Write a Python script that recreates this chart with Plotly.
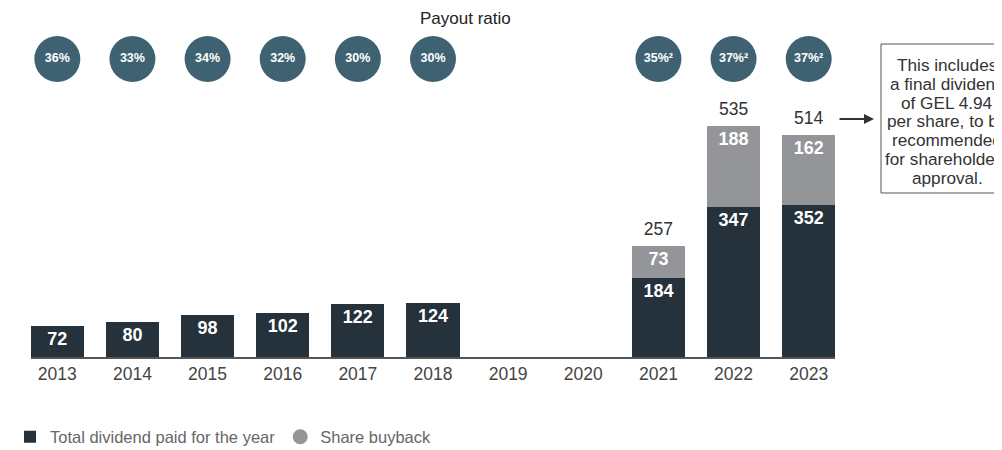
import plotly.graph_objects as go

years = ["2013", "2014", "2015", "2016", "2017", "2018", "2019", "2020", "2021", "2022", "2023"]
dividend = [72, 80, 98, 102, 122, 124, None, None, 184, 347, 352]
buyback = [None, None, None, None, None, None, None, None, 73, 188, 162]
payout_years = ["2013", "2014", "2015", "2016", "2017", "2018", "2021", "2022", "2023"]
payout_labels = ["36%", "33%", "34%", "32%", "30%", "30%", "35%²", "37%²", "37%²"]
note_lines = ["This includes", "a final dividend", "of GEL 4.94", "per share, to be",
              "recommended", "for shareholders", "approval."]

DARK = "#25313b"
GREY = "#939598"
TEAL = "#3e6272"
FONT = "Liberation Sans, Arial, sans-serif"

# page geometry (the page body has an 8px margin)
OFF = 8
W, H = 1002 - OFF, 450 - OFF
PL, PR, PT, PB = 31, 835, 30, 357          # plot area in page pixels
L, R, T, B = PL - OFF, (OFF + W) - PR, PT - OFF, (OFF + H) - PB
PW, PH = PR - PL, PB - PT


def px_x(p):
    return (p - PL) / PW


def px_y(p):
    return (PB - p) / PH


fig = go.Figure()

fig.add_trace(go.Bar(
    x=years, y=dividend, name="Total dividend paid for the year",
    marker=dict(color=DARK, line=dict(width=0)),
    text=[str(v) if v is not None else "" for v in dividend],
    textposition="inside", insidetextanchor="end",
    textfont=dict(color="white", size=18, family=FONT, weight="bold"),
    constraintext="none", showlegend=True, hoverinfo="skip",
))
fig.add_trace(go.Bar(
    x=years, y=buyback, name="Share buyback",
    marker=dict(color=GREY, line=dict(width=0)),
    text=[str(v) if v is not None else "" for v in buyback],
    textposition="inside", insidetextanchor="end",
    textfont=dict(color="white", size=18, family=FONT, weight="bold"),
    constraintext="none", showlegend=False, hoverinfo="skip",
))
# legend entry with a circle icon for buyback
fig.add_trace(go.Scatter(
    x=[None], y=[None], mode="markers", name="Share buyback",
    marker=dict(color=GREY, size=15, symbol="circle"), showlegend=True,
))

# totals above stacked bars
tot_x, tot_y = [], []
for yr, d, b in zip(years, dividend, buyback):
    if d is not None and b is not None:
        tot_x.append(yr)
        tot_y.append(d + b)
fig.add_trace(go.Scatter(
    x=tot_x, y=tot_y, mode="markers+text", text=[str(v) for v in tot_y],
    marker=dict(size=9, color="rgba(0,0,0,0)"),
    textposition="top center", textfont=dict(size=17.5, color="#333", family=FONT),
    showlegend=False, hoverinfo="skip", cliponaxis=False,
))

# payout ratio circles
fig.add_trace(go.Scatter(
    x=payout_years, y=[0.5] * len(payout_years), yaxis="y2",
    mode="markers+text", text=payout_labels, textposition="middle center",
    textfont=dict(color="white", size=12.5, family=FONT, weight="bold"),
    marker=dict(color=TEAL, size=46, line=dict(width=0)),
    showlegend=False, hoverinfo="skip", cliponaxis=False,
))

fig.add_annotation(xref="paper", yref="paper", x=px_x(466), y=px_y(18),
                   xanchor="center", yanchor="middle",
                   text="Payout ratio", showarrow=False,
                   font=dict(size=17, color="#222", family=FONT))

# note box
fig.add_shape(type="rect", xref="paper", yref="paper",
              x0=px_x(881), x1=px_x(1015), y0=px_y(193), y1=px_y(44),
              line=dict(color="#555", width=1), fillcolor="rgba(0,0,0,0)", layer="above")
for i, line in enumerate(note_lines):
    fig.add_annotation(xref="paper", yref="paper", x=px_x(947), y=px_y(65 + i * 18.8),
                       xanchor="center", yanchor="middle", text=line, showarrow=False,
                       font=dict(size=17.2, color="#333", family=FONT))
# arrow
fig.add_annotation(xref="paper", yref="paper", x=px_x(874), y=px_y(119),
                   ax=-36, ay=0, text="", showarrow=True,
                   arrowhead=2, arrowsize=1, arrowwidth=2, arrowcolor="#333")

fig.update_layout(
    width=W, height=H,
    margin=dict(l=L, r=R, t=T, b=B),
    barmode="stack", bargap=0.293,
    plot_bgcolor="white", paper_bgcolor="white",
    font=dict(family=FONT, color="#444"),
    xaxis=dict(type="category", range=[-0.35, 10.35], showline=True,
               linecolor="#555", linewidth=1.5, showgrid=False, ticks="",
               tickfont=dict(size=17.5, color="#444", family=FONT), anchor="y"),
    yaxis=dict(range=[0, 600], domain=[0, px_y(PB - 600 * 0.432)], visible=False, showgrid=False),
    yaxis2=dict(range=[0, 1], domain=[px_y(88), px_y(30)], visible=False,
                showgrid=False, anchor="x"),
    legend=dict(orientation="h", xref="container", yref="container",
                x=(10 - OFF) / W, y=1 - (437 - OFF) / H, xanchor="left", yanchor="middle",
                traceorder="normal",
                font=dict(size=16.5, color="#666", family=FONT), bgcolor="rgba(0,0,0,0)"),
    uniformtext=dict(minsize=17, mode="show"),
)

fig.write_html("out.html")
